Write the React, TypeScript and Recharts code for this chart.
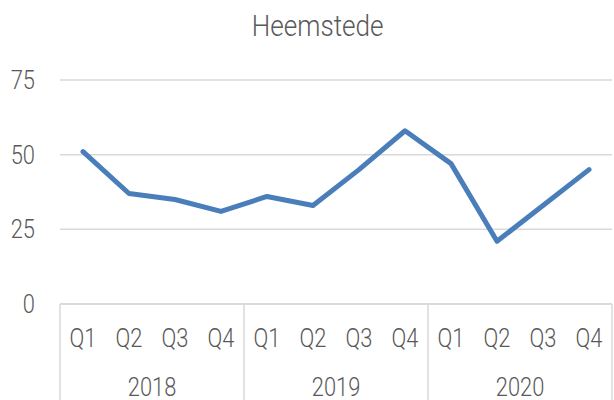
import React from "react";
import { LineChart, Line, XAxis, YAxis, CartesianGrid } from "recharts";

const quarters = ["Q1", "Q2", "Q3", "Q4", "Q1", "Q2", "Q3", "Q4", "Q1", "Q2", "Q3", "Q4"];
const years = ["2018", "2018", "2018", "2018", "2019", "2019", "2019", "2019", "2020", "2020", "2020", "2020"];
const values = [51, 37, 35, 31, 36, 33, 45, 58, 47, 21, 33, 45];
const yTicks = [0, 25, 50, 75];
const title = "Heemstede";

const data = quarters.map((q, i) => ({ q, year: years[i], value: values[i] }));

const W = 614;
const H = 400;
const Y_W = 60;
const M_RIGHT = 2;
const HALF_BAND = (W - Y_W - M_RIGHT) / data.length / 2;

const FONT = "Roboto, 'Open Sans', sans-serif";
const TXT = "#595959";
const GRID = "#d9d9d9";
const SX = 0.875;
const FS = 25;

const SText = ({ x, y, anchor, children, dy }: any) => (
  <text
    transform={`translate(${x},${y}) scale(${SX},1)`}
    x={0}
    y={0}
    dy={dy}
    textAnchor={anchor}
    fill={TXT}
    fontSize={FS}
    fontFamily={FONT}
    fontWeight={300}
  >
    {children}
  </text>
);

const QuarterTick = (props: any) => {
  const { x, y, payload, index } = props;
  const n = data.length;
  const off = HALF_BAND;
  const els: React.ReactNode[] = [];
  if (index % 4 === 0) {
    els.push(<line key="s" x1={x - off} x2={x - off} y1={y} y2={y + 96} stroke={GRID} strokeWidth={1.5} />);
  }
  if (index === n - 1) {
    els.push(<line key="e" x1={x + off} x2={x + off} y1={y} y2={y + 96} stroke={GRID} strokeWidth={1.5} />);
  }
  if (index % 4 === 1) {
    els.push(
      <SText key="y" x={x + off} y={y + 92} anchor="middle">
        {data[index].year}
      </SText>
    );
  }
  els.push(
    <SText key="q" x={x} y={y + 43} anchor="middle">
      {payload.value}
    </SText>
  );
  return <g>{els}</g>;
};

const ValueTick = (props: any) => {
  const { x, y, payload } = props;
  return (
    <SText x={x} y={y} anchor="end" dy="0.355em">
      {payload.value}
    </SText>
  );
};

export default function App() {
  return (
    <div style={{ position: "absolute", left: 0, top: 0, width: W, height: H, background: "#fff" }}>
      <div
        style={{
          position: "absolute",
          left: 0,
          width: 635,
          top: 11,
          textAlign: "center",
          fontFamily: FONT,
          fontWeight: 300,
          fontSize: 30,
          lineHeight: "30px",
          color: TXT,
        }}
      >
        <span style={{ display: "inline-block", transform: "scaleX(0.87)" }}>{title}</span>
      </div>
      <LineChart width={W} height={H} data={data} margin={{ top: 80, right: M_RIGHT, left: 0, bottom: 0 }}>
        <CartesianGrid horizontal vertical={false} stroke={GRID} strokeWidth={1.5} />
        <XAxis
          dataKey="q"
          interval={0}
          height={96}
          padding={{ left: HALF_BAND, right: HALF_BAND }}
          tickSize={0}
          tickMargin={0}
          axisLine={{ stroke: GRID, strokeWidth: 1.5 }}
          tickLine={false}
          tick={<QuarterTick />}
        />
        <YAxis
          domain={[0, 75]}
          ticks={yTicks}
          width={Y_W}
          tickSize={0}
          tickMargin={25}
          axisLine={false}
          tickLine={false}
          tick={<ValueTick />}
        />
        <Line
          type="linear"
          dataKey="value"
          stroke="#4a7ebb"
          strokeWidth={5}
          strokeLinecap="round"
          strokeLinejoin="round"
          dot={false}
          isAnimationActive={false}
        />
      </LineChart>
    </div>
  );
}
